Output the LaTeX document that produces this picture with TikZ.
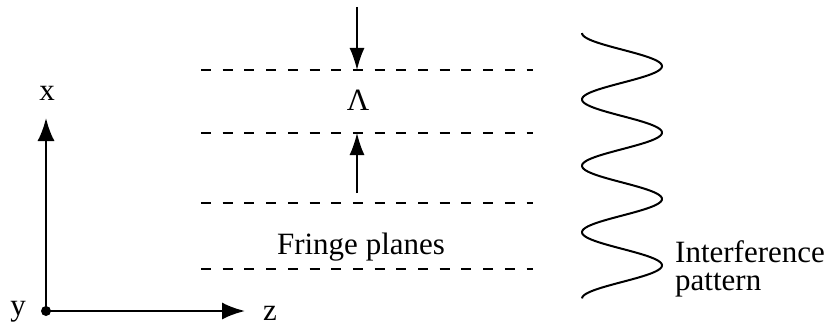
\documentclass[tikz,border=0pt]{standalone}
\usepackage{fontspec}
\setmainfont{Liberation Serif}
\usetikzlibrary{arrows.meta}
\begin{document}
\begin{tikzpicture}[x=1pt,y=-1pt,
  lbl/.style={font=\fontsize{31}{31}\selectfont, inner sep=0pt},
  axis/.style={line width=2.2pt, -{Latex[length=23pt,width=17pt]}},
  fringe/.style={line width=2.4pt, dash pattern=on 10pt off 11.7pt},
  spacing/.style={line width=1.6pt, -{Latex[length=22pt,width=15pt]}},
  wave/.style={line width=2pt}]
\useasboundingbox[fill=white] (0,0) rectangle (827,329);
% axes
\coordinate (O) at (46,311);
\coordinate (xend) at (46,118);
\coordinate (zend) at (245,311);
\draw[axis] (O) -- (xend);
\draw[axis] (O) -- (zend);
\fill (O) circle (5pt);
\node[lbl, anchor=base] (xl) at (47,100) {x};
\node[lbl, anchor=base] (yl) at (18,315) {y};
\node[lbl, anchor=base] (zl) at (270,320) {z};
% fringe planes
\foreach \i/\yy in {1/70,2/133,3/203,4/269}{
  \coordinate (L\i) at (201,\yy);
  \coordinate (R\i) at (533,\yy);
  \draw[fringe] (L\i) -- (R\i);
}
\coordinate (T1) at (357,70);
\coordinate (T2) at (357,133);
\coordinate (A1) at (357,7);
\coordinate (A2) at (357,193);
\draw[spacing] (A1) -- (T1);
\draw[spacing] (A2) -- (T2);
\node[lbl, anchor=base] (lam) at (358,110) {Λ};
\node[lbl, anchor=base] (fp) at (361,254) {Fringe planes};
% interference pattern
\draw[wave] plot[domain=0:4, samples=240, smooth] ({622-40*cos(360*\x)}, {33+66.4*\x});
\node[lbl, anchor=base west] (ip1) at (675,262) {Interference};
\node[lbl, anchor=base west] (ip2) at (675,290) {pattern};
\end{tikzpicture}
\end{document}
